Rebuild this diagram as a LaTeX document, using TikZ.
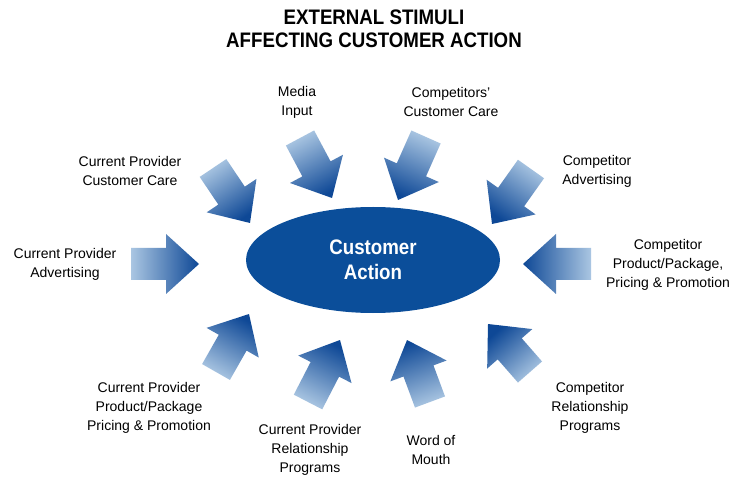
\documentclass[tikz,border=0pt]{standalone}
\usepackage{fontspec}
\setmainfont{Liberation Sans}
\newfontfamily\condfont[FakeStretch=0.89]{Liberation Sans}
\usetikzlibrary{shapes.geometric}

\definecolor{arrowlight}{RGB}{170,198,226}
\definecolor{arrowdark}{RGB}{14,72,150}
\definecolor{actionblue}{RGB}{11,78,154}

\tikzset{
  label/.style={align=center, font=\fontsize{14}{19}\selectfont, inner sep=0pt},
  heading/.style={align=center, font=\condfont\bfseries\fontsize{21}{23}\selectfont, inner sep=0pt},
  hub/.style={ellipse, fill=actionblue, text=white, align=center,
    minimum width=254, minimum height=106, inner sep=0pt,
    font=\condfont\bfseries\fontsize{21}{24.5}\selectfont},
  blockarrow/.style={shading=axis, bottom color=arrowlight, top color=arrowdark}
}

\begin{document}
\begin{tikzpicture}[x=1pt, y=1pt]
  \fill[white] (0,0) rectangle (736,477);
  \useasboundingbox (0,0) rectangle (736,477);

  % title
  \node[heading] (title) at (374,448) {EXTERNAL STIMULI\\AFFECTING CUSTOMER ACTION};

  % central ellipse
  \node[hub] (action) at (373,217) {Customer\\Action};

  % stimuli labels
  \node[label] (media)    at (297,375) {Media\\Input};
  \node[label] (compcare) at (451,375) {Competitors’\\Customer Care};
  \node[label] (cpcare)   at (130,306) {Current Provider\\Customer Care};
  \node[label] (compadv)  at (597,306) {Competitor\\Advertising};
  \node[label] (cpadv)    at (65,213)  {Current Provider\\Advertising};
  \node[label] (compprod) at (668,212) {Competitor\\Product/Package,\\Pricing \& Promotion};
  \node[label] (cpprod)   at (149,69)  {Current Provider\\Product/Package\\Pricing \& Promotion};
  \node[label] (cprel)    at (310,27)  {Current Provider\\Relationship\\Programs};
  \node[label] (wom)      at (431,27)  {Word of\\Mouth};
  \node[label] (comprel)  at (590,69)  {Competitor\\Relationship\\Programs};

  % block arrows: tail centre (x,y) -> tip (x,y), measured from the top edge
  \foreach \sx/\sy/\tx/\ty in {131/264/199/264, 213/168/250/223, 300/138/332/198,
      426/137/398/200, 531/169/492/224, 591/264/523/264, 530/372/488/324,
      216/372/249/314, 308/402/340/340, 430/402/407/340}{
    \pgfmathsetmacro\dx{\tx-\sx}
    \pgfmathsetmacro\dy{\sy-\ty}
    \pgfmathsetmacro\ang{atan2(\dy,\dx)}
    \pgfmathsetmacro\len{veclen(\dx,\dy)}
    \pgfmathsetmacro\shaft{\len-33}
    \pgfmathsetmacro\sang{\ang-90}
    \begin{scope}[shift={(\sx,477-\sy)}, rotate=\ang]
      \shade[blockarrow, shading angle=\sang]
        (0,-16) -- (\shaft,-16) -- (\shaft,-30) -- (\len,0)
        -- (\shaft,30) -- (\shaft,16) -- (0,16) -- cycle;
    \end{scope}
  }
\end{tikzpicture}
\end{document}
